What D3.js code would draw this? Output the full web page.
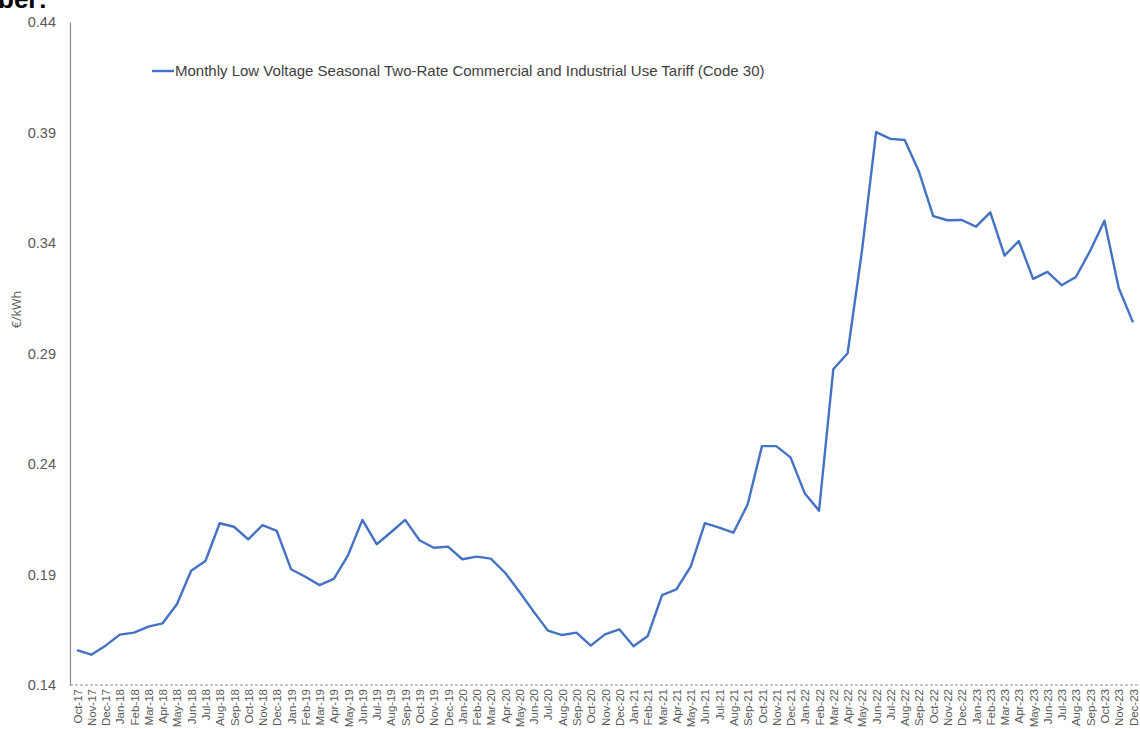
<!DOCTYPE html>
<html>
<head>
<meta charset="utf-8">
<script src="https://cdn.jsdelivr.net/npm/d3@7"></script>
<style>
  html, body { margin: 0; padding: 0; background: #fff; }
  svg { display: block; }
</style>
</head>
<body>
<svg id="chart" width="1140" height="729"></svg>
<script>
// Monthly tariff, €/kWh
const months = [
  "Oct-17","Nov-17","Dec-17",
  "Jan-18","Feb-18","Mar-18","Apr-18","May-18","Jun-18","Jul-18","Aug-18","Sep-18","Oct-18","Nov-18","Dec-18",
  "Jan-19","Feb-19","Mar-19","Apr-19","May-19","Jun-19","Jul-19","Aug-19","Sep-19","Oct-19","Nov-19","Dec-19",
  "Jan-20","Feb-20","Mar-20","Apr-20","May-20","Jun-20","Jul-20","Aug-20","Sep-20","Oct-20","Nov-20","Dec-20",
  "Jan-21","Feb-21","Mar-21","Apr-21","May-21","Jun-21","Jul-21","Aug-21","Sep-21","Oct-21","Nov-21","Dec-21",
  "Jan-22","Feb-22","Mar-22","Apr-22","May-22","Jun-22","Jul-22","Aug-22","Sep-22","Oct-22","Nov-22","Dec-22",
  "Jan-23","Feb-23","Mar-23","Apr-23","May-23","Jun-23","Jul-23","Aug-23","Sep-23","Oct-23","Nov-23","Dec-23"
];

const tariff = [
  0.1558, 0.1537, 0.1578,
  0.1628, 0.1637, 0.1664, 0.1679, 0.1765, 0.1917, 0.1961, 0.2132, 0.2116, 0.2059, 0.2123, 0.2097,
  0.1924, 0.1890, 0.1852, 0.1880, 0.1988, 0.2147, 0.2037, 0.2091, 0.2147, 0.2055, 0.2021, 0.2026,
  0.1969, 0.1981, 0.1972, 0.1908, 0.1822, 0.1732, 0.1646, 0.1626, 0.1637, 0.1578, 0.1629, 0.1652,
  0.1575, 0.1622, 0.1807, 0.1833, 0.1935, 0.2132, 0.2112, 0.2089, 0.2218, 0.2481, 0.2481, 0.2430,
  0.2267, 0.2189, 0.2829, 0.2901, 0.3361, 0.3902, 0.3871, 0.3866, 0.3723, 0.3522, 0.3503, 0.3504,
  0.3474, 0.3539, 0.3343, 0.3409, 0.3238, 0.3269, 0.3209, 0.3246, 0.3365, 0.3501, 0.3196, 0.3041
];

const yTicks = [0.14, 0.19, 0.24, 0.29, 0.34, 0.39, 0.44];
const seriesName = "Monthly Low Voltage Seasonal Two-Rate Commercial and Industrial Use Tariff (Code 30)";
const yTitle = "€/kWh";

const svg = d3.select("#chart");
const plot = { left: 70, right: 1140, top: 22, bottom: 685 };

const x = d3.scalePoint()
  .domain(months)
  .range([77, 1133]);

const y = d3.scaleLinear()
  .domain([0.14, 0.44])
  .range([plot.bottom, plot.top]);

// clipped heading remnant at the very top
svg.append("text")
  .attr("x", -2)
  .attr("y", 8)
  .attr("font-family", "Liberation Sans, Arial, sans-serif")
  .attr("font-weight", "bold")
  .attr("font-size", 26)
  .attr("fill", "#000")
  .text("ber:");

// y axis: line plus labels only
const yAxis = d3.axisLeft(y)
  .tickValues(yTicks)
  .tickFormat(d3.format(".2f"))
  .tickSize(0)
  .tickPadding(14);

const yg = svg.append("g")
  .attr("transform", `translate(${plot.left},0)`)
  .call(yAxis);
yg.select(".domain").attr("stroke", "#8c8c8c").attr("stroke-width", 1.2);
yg.selectAll(".tick line").remove();
yg.selectAll("text")
  .attr("font-family", "Liberation Sans, Arial, sans-serif")
  .attr("font-size", 14.5)
  .attr("fill", "#595959");

// dashed baseline
svg.append("line")
  .attr("x1", plot.left)
  .attr("x2", plot.right)
  .attr("y1", y(0.14))
  .attr("y2", y(0.14))
  .attr("stroke", "#8c8c8c")
  .attr("stroke-width", 1)
  .attr("stroke-dasharray", "3,2");

// x axis labels (rotated)
const xAxis = d3.axisBottom(x).tickSize(0).tickPadding(6);
const xg = svg.append("g")
  .attr("transform", `translate(0,${plot.bottom})`)
  .call(xAxis);
xg.select(".domain").remove();
xg.selectAll("text")
  .attr("font-family", "Liberation Sans, Arial, sans-serif")
  .attr("font-size", 11.5)
  .attr("fill", "#595959")
  .attr("text-anchor", "end")
  .attr("dy", "0.35em")
  .attr("transform", "translate(0,1) rotate(-90)")
  .attr("x", -3)
  .attr("y", 0);

// y axis title
svg.append("text")
  .attr("transform", `translate(21,${(plot.top + plot.bottom) / 2 - 44}) rotate(-90)`)
  .attr("text-anchor", "middle")
  .attr("font-family", "Open Sans, DejaVu Sans, sans-serif")
  .attr("font-size", 12.5)
  .attr("fill", "#595959")
  .text(yTitle);

// series line
const line = d3.line()
  .x((d, i) => x(months[i]))
  .y(d => y(d));

svg.append("path")
  .datum(tariff)
  .attr("fill", "none")
  .attr("stroke", "#4472C4")
  .attr("stroke-width", 2.4)
  .attr("stroke-linejoin", "round")
  .attr("d", line);

// legend
const lg = svg.append("g").attr("transform", "translate(152,71)");
lg.append("line")
  .attr("x1", 0).attr("x2", 22)
  .attr("y1", 0).attr("y2", 0)
  .attr("stroke", "#4472C4")
  .attr("stroke-width", 2.4);
lg.append("text")
  .attr("x", 23)
  .attr("y", 0)
  .attr("dy", "0.35em")
  .attr("font-family", "Liberation Sans, Arial, sans-serif")
  .attr("font-size", 15)
  .attr("fill", "#404040")
  .text(seriesName);
</script>
</body>
</html>
